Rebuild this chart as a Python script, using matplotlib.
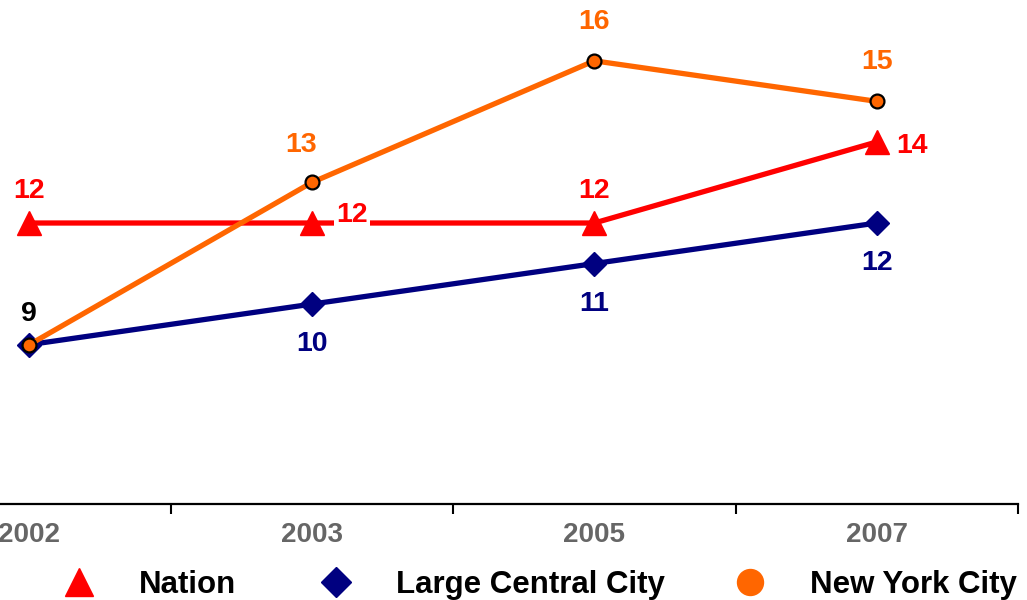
import matplotlib
matplotlib.use('Agg')
import matplotlib.pyplot as plt
from matplotlib.lines import Line2D

plt.rcParams['font.family'] = ['Liberation Sans', 'DejaVu Sans']
plt.rcParams['font.weight'] = 'bold'

years = ['2002', '2003', '2005', '2007']
nation = [12, 12, 12, 14]
large_city = [9, 10, 11, 12]
nyc = [9, 13, 16, 15]
series_names = ['Nation', 'Large Central City', 'New York City']

red = '#FF0000'
navy = '#000080'
orange = '#FF6600'

fig = plt.figure(figsize=(10.27, 6.0), dpi=100)
# the plot area runs off the left edge of the picture, as in the original
ax = fig.add_axes([-0.109, 0.16, 1.1003, 0.84])
x = list(range(len(years)))

ax.plot(x, nation, color=red, lw=3.8, marker='^', ms=17, mec=red, clip_on=False, zorder=3)
ax.plot(x, large_city, color=navy, lw=3.8, marker='D', ms=12, mec=navy, clip_on=False, zorder=4)
ax.plot(x, nyc, color=orange, lw=3.8, marker='o', ms=10, mfc=orange, mec='black', mew=1.6,
        clip_on=False, zorder=5)

lab = dict(ha='center', va='center', fontsize=20.5, fontweight='bold', textcoords='offset points')

# Nation labels
ax.annotate(str(nation[0]), (0, nation[0]), xytext=(0, 23), color=red, **lab)
ax.annotate(str(nation[1]), (1, nation[1]), xytext=(29, 6), color=red, zorder=6,
            bbox=dict(boxstyle='square,pad=0.08', fc='white', ec='none'), **lab)
ax.annotate(str(nation[2]), (2, nation[2]), xytext=(0, 23), color=red, **lab)
ax.annotate(str(nation[3]), (3, nation[3]), xytext=(25, -3), color=red, **lab)

# Large Central City labels (first one shared with NYC, shown in black)
ax.annotate(str(large_city[0]), (0, large_city[0]), xytext=(0, 22), color='black', **lab)
for i in range(1, 4):
    ax.annotate(str(large_city[i]), (i, large_city[i]), xytext=(0, -29), color=navy, **lab)

# New York City labels
ax.annotate(str(nyc[1]), (1, nyc[1]), xytext=(-8, 27), color=orange, **lab)
for i in range(2, 4):
    ax.annotate(str(nyc[i]), (i, nyc[i]), xytext=(0, 28), color=orange, **lab)

ax.set_xlim(-0.5, 3.5)
ax.set_ylim(5.07, 17.5)
for s in ['left', 'right', 'top']:
    ax.spines[s].set_visible(False)
ax.spines['bottom'].set_linewidth(1.6)
ax.set_yticks([])
ax.set_xticks([0.5, 1.5, 2.5, 3.5])
ax.set_xticklabels([])
ax.tick_params(axis='x', which='major', length=7, width=1.5, direction='out')
ax.set_xticks(x, minor=True)
ax.set_xticklabels(years, minor=True, fontsize=20, fontweight='bold', color='#666666')
ax.tick_params(axis='x', which='minor', length=0, pad=13)

handles = [
    Line2D([], [], ls='none', marker='^', ms=20, color=red),
    Line2D([], [], ls='none', marker='D', ms=14.8, color=navy),
    Line2D([], [], ls='none', marker='o', ms=18.7, color=orange),
]
# marker centres in pixels, and gap from marker centre to text start
marker_px = [79, 336, 750]
for h, name, mx in zip(handles, series_names, marker_px):
    hl = 1.0
    fs_px = 22.5 * 100 / 72
    left = mx - hl * fs_px / 2
    fig.legend([h], [name], loc='center left', bbox_to_anchor=(left / 1027, 0.025),
               frameon=False, borderpad=0, borderaxespad=0, handlelength=hl,
               handletextpad=(60 - hl * fs_px / 2) / fs_px,
               prop=dict(size=22.5, weight='bold'))

fig.savefig('out.png', dpi=100)
